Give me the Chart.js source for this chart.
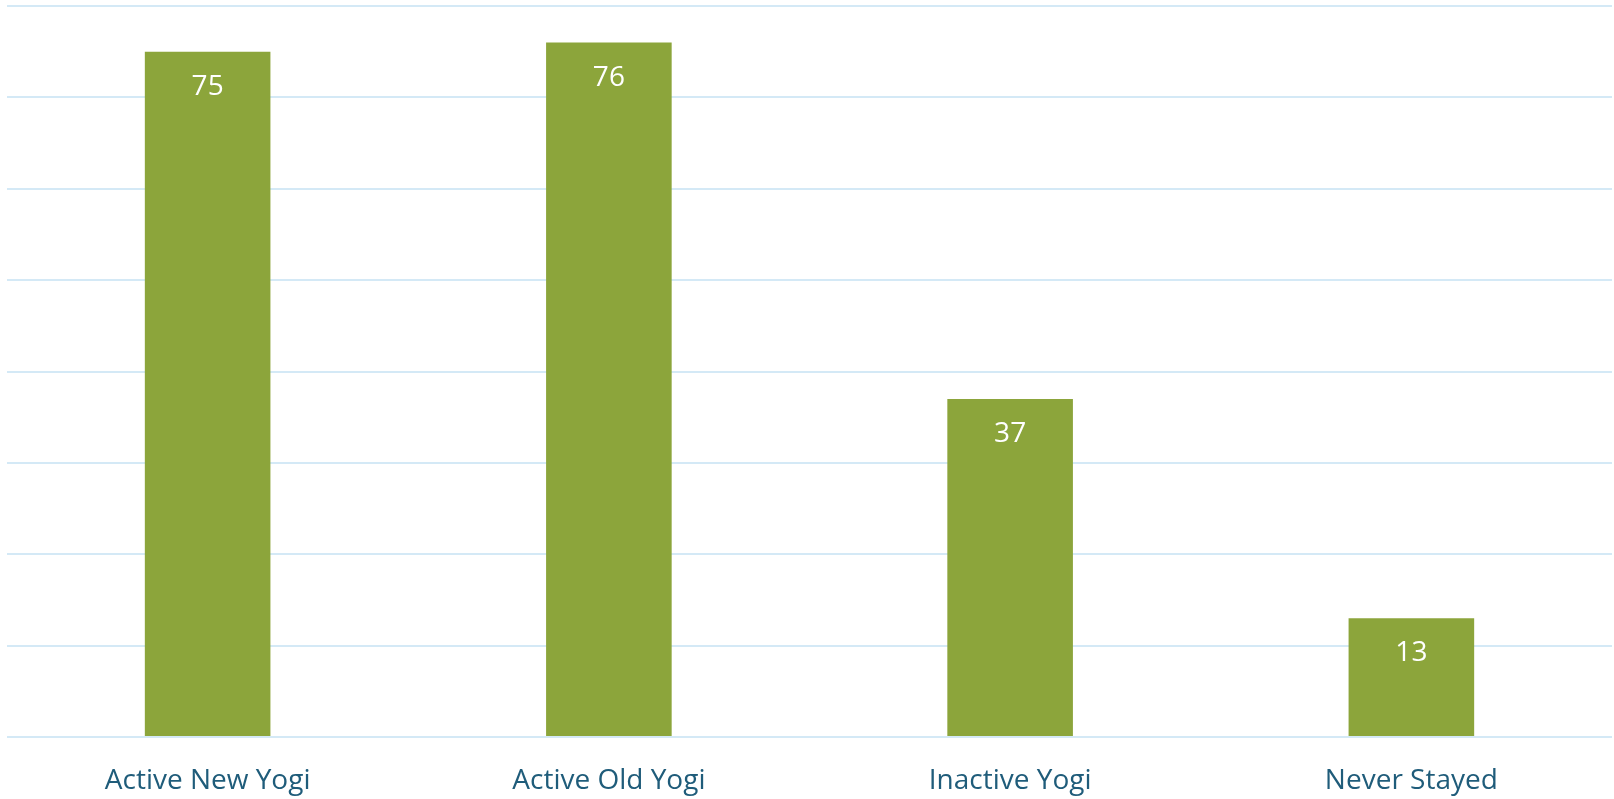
<!DOCTYPE html>
<html>
<head>
<meta charset="utf-8">
<script src="https://cdn.jsdelivr.net/npm/chart.js@4/dist/chart.umd.min.js"></script>
<style>
html,body{margin:0;padding:0;background:#fff;overflow:hidden;}
#wrap{width:1614px;height:799px;position:relative;}
canvas{display:block;}
</style>
</head>
<body>
<div id="wrap"><canvas id="c"></canvas></div>
<script>
const categories = ["Active New Yogi", "Active Old Yogi", "Inactive Yogi", "Never Stayed"];
const values = [75, 76, 37, 13];
const yMin = 0, yMax = 80, yStep = 10;

const valueLabels = {
  id: 'valueLabels',
  afterDatasetsDraw(chart) {
    const ctx = chart.ctx;
    const meta = chart.getDatasetMeta(0);
    ctx.save();
    ctx.fillStyle = '#ffffff';
    ctx.font = '28px "Open Sans", sans-serif';
    ctx.textAlign = 'center';
    ctx.textBaseline = 'middle';
    meta.data.forEach((bar, i) => {
      ctx.fillText(String(values[i]), bar.x, bar.y + 35);
    });
    ctx.restore();
  }
};

new Chart(document.getElementById('c'), {
  type: 'bar',
  data: {
    labels: categories,
    datasets: [{
      data: values,
      backgroundColor: '#8ca53b',
      borderWidth: 0,
      barPercentage: 0.313,
      categoryPercentage: 1
    }]
  },
  options: {
    responsive: true,
    maintainAspectRatio: false,
    animation: false,
    layout: { padding: { left: 7, right: 2, top: 6, bottom: 0 } },
    plugins: { legend: { display: false }, tooltip: { enabled: false } },
    scales: {
      x: {
        grid: { display: false },
        border: { display: false },
        ticks: { color: '#1f5c7a', font: { family: '"Open Sans", sans-serif', size: 28 }, padding: 19, maxRotation: 0 },
        afterFit(scale) { scale.height = 62; }
      },
      y: {
        min: yMin, max: yMax,
        ticks: { display: false, stepSize: yStep },
        grid: { color: '#d4e9f6', lineWidth: 2, drawTicks: false },
        border: { display: false },
        afterFit(scale) { scale.width = 0; }
      }
    }
  },
  plugins: [valueLabels]
});
</script>
</body>
</html>
